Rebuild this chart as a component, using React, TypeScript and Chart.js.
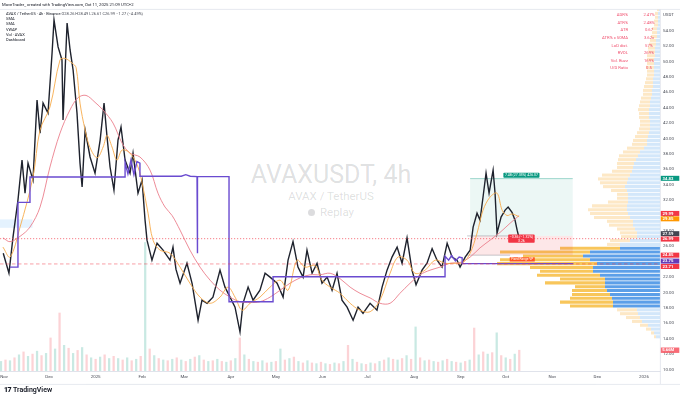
import React, { useEffect, useRef } from "react";
import { Chart, registerables } from "chart.js";

Chart.register(...registerables);

const FONT = "Roboto, 'Open Sans', 'DejaVu Sans', Arial, sans-serif";

// ---------- price path (days since 2024-11-01, USDT) ----------
const priceDays = [
  -0.5, 3.3, 6.0, 9.3, 12.0, 14.0, 16.0, 19.3, 22.0, 24.0,
  26.0, 29.3, 32.0, 33.3, 36.0, 38.6, 39.3, 42.0, 44.0, 46.0,
  48.6, 50.6, 52.0, 54.0, 57.3, 60.6, 64.0, 66.6, 68.6, 70.6,
  73.2, 75.9, 77.9, 80.6, 83.9, 85.9, 89.2, 91.9, 93.9, 95.2,
  98.5, 101.9, 105.9, 110.5, 112.5, 114.5, 117.2, 121.8, 125.2, 129.2,
  131.8, 135.2, 139.1, 143.8, 147.1, 150.5, 153.8, 157.1, 159.1, 162.5,
  165.8, 170.4, 173.8, 177.1, 181.8, 185.8, 189.1, 192.4, 195.7, 199.1,
  201.7, 205.1, 208.4, 211.7, 215.1, 218.4, 221.7, 225.0, 228.4, 232.4,
  235.7, 239.0, 243.7, 248.3, 251.7, 255.0, 258.3, 261.7, 265.0, 268.3,
  271.6, 274.3, 278.3, 281.6, 285.0, 288.3, 291.6, 295.0, 298.3, 301.6,
  303.6, 307.0, 310.3, 312.3, 314.9, 316.9, 318.9, 320.9, 322.9, 325.6,
  326.9, 328.2, 330.9, 333.6, 335.6, 338.2, 340.2, 341.6, 343.0,
];
const priceValues = [
  25.1, 22.5, 27.2, 32.0, 37.2, 32.9, 36.8, 34.6, 45.0, 40.7,
  44.6, 43.3, 51.1, 55.4, 51.9, 50.2, 42.4, 55.0, 51.5, 48.9,
  43.3, 36.8, 33.7, 41.1, 37.6, 35.5, 39.8, 44.6, 40.2, 36.3,
  33.3, 39.8, 41.5, 37.2, 35.5, 38.1, 32.9, 34.6, 29.4, 26.8,
  24.2, 26.4, 25.5, 24.2, 25.9, 23.0, 21.2, 23.8, 21.2, 16.4,
  19.0, 18.6, 19.4, 22.9, 20.7, 19.4, 18.1, 14.9, 18.6, 20.7,
  19.0, 20.3, 22.5, 22.0, 21.2, 19.4, 24.2, 26.6, 23.3, 22.0,
  25.5, 22.5, 23.8, 21.2, 22.0, 20.3, 22.5, 19.0, 18.1, 16.4,
  18.1, 17.3, 18.6, 17.7, 20.7, 22.9, 24.6, 25.9, 23.8, 27.1,
  22.9, 21.0, 22.9, 23.8, 25.7, 24.2, 23.3, 26.4, 24.6, 24.2,
  23.3, 24.6, 25.5, 28.5, 30.3, 29.4, 32.4, 35.5, 32.9, 35.9,
  32.9, 27.7, 29.8, 30.7, 31.1, 30.4, 29.4, 28.1, 26.99,
];

// ---------- SMA (fast, orange) ----------
const smaFastDays = [
  -0.7, 4.0, 10.7, 19.3, 24.0, 30.6, 37.3, 40.6, 45.3, 48.0,
  50.6, 54.0, 57.3, 62.0, 66.0, 68.6, 71.9, 75.2, 78.6, 83.9,
  89.2, 92.5, 95.9, 99.2, 103.9, 110.5, 117.2, 123.8, 130.5, 137.2,
  143.8, 149.1, 153.8, 158.5, 163.8, 170.4, 177.1, 183.8, 189.1, 195.1,
  200.4, 207.1, 211.7, 217.1, 223.7, 230.4, 237.0, 243.7, 250.3, 257.0,
  262.3, 268.3, 273.6, 280.3, 287.0, 293.6, 300.3, 305.6, 310.3, 314.9,
  318.9, 323.6, 328.2, 331.6, 334.9, 338.2, 342.9,
];
const smaFastValues = [
  25.9, 24.6, 28.5, 35.0, 41.1, 44.1, 50.2, 50.4, 49.8, 49.2,
  44.6, 41.1, 38.8, 37.5, 38.9, 40.4, 38.9, 37.2, 38.5, 38.1,
  36.3, 33.7, 30.3, 26.8, 25.5, 25.1, 23.3, 21.2, 19.4, 18.6,
  19.4, 20.7, 19.4, 17.7, 18.6, 19.4, 20.7, 21.6, 20.3, 24.2,
  23.3, 23.5, 21.6, 20.7, 19.9, 18.6, 17.7, 17.5, 19.0, 22.5,
  24.6, 24.2, 22.5, 22.9, 24.2, 23.8, 23.8, 23.9, 25.1, 27.7,
  30.7, 32.4, 32.9, 30.7, 30.0, 30.2, 29.85,
];

// ---------- SMA (slow, pink) ----------
const smaSlowDays = [
  -0.7, 4.0, 10.7, 17.3, 24.0, 30.6, 37.3, 43.9, 49.3, 54.6,
  60.6, 65.9, 72.6, 78.6, 83.9, 90.5, 97.2, 102.5, 107.2, 111.9,
  117.2, 123.8, 130.5, 137.2, 143.8, 150.5, 157.1, 163.8, 170.4, 177.1,
  183.8, 190.4, 197.1, 203.7, 210.4, 217.1, 223.7, 230.4, 237.0, 243.7,
  250.3, 257.0, 263.6, 270.3, 276.9, 283.6, 290.3, 296.9, 303.6, 310.3,
  316.9, 323.6, 330.2, 336.9, 342.9,
];
const smaSlowValues = [
  27.1, 26.6, 27.3, 28.5, 31.1, 36.3, 40.7, 43.7, 45.3, 45.6,
  44.7, 43.7, 42.0, 39.4, 38.1, 37.6, 35.9, 32.9, 31.1, 30.0,
  28.1, 25.5, 23.3, 21.6, 20.3, 19.4, 18.8, 18.7, 18.8, 19.4,
  20.3, 21.2, 21.9, 22.3, 22.3, 22.5, 21.8, 20.7, 19.9, 19.3,
  18.6, 18.6, 19.9, 21.2, 22.3, 22.9, 23.3, 23.8, 23.9, 24.6,
  25.8, 26.8, 27.8, 29.0, 29.99,
];

// ---------- VWAP (purple, stepped) ----------
const vwapDays = [
  4.0, 9.3, 9.3, 17.3, 17.3, 80.6, 80.6, 82.5, 84.5, 86.5,
  88.5, 90.5, 90.5, 118.0, 121.0, 124.0, 128.5, 128.7, 128.9, 149.8,
  149.8, 179.1, 179.1, 293.6, 293.6, 296.0, 298.0, 300.5, 303.0, 305.0,
  305.0, 379.0,
];
const vwapValues = [
  23.3, 23.3, 31.7, 31.7, 35.0, 35.0, 36.9, 35.4, 37.2, 35.3,
  37.0, 36.8, 35.1, 35.1, 35.3, 35.1, 35.05, 25.1, 35.05, 35.05,
  18.8, 18.8, 22.05, 22.05, 24.7, 24.2, 24.8, 24.1, 24.6, 24.5,
  23.75, 23.75,
];

// ---------- Volume (millions, one sample every 3 days) ----------
const volumeStartDay = -2;
const volumeStepDays = 3;
const volumeValues = [
  2.6, 3.0, 2.8, 3.6, 4.4, 5.2, 4.0, 4.6, 5.4, 4.2,
  4.8, 9.0, 6.0, 15.8, 7.0, 6.2, 4.8, 5.6, 6.4, 4.4,
  3.6, 3.2, 3.8, 4.4, 3.4, 4.0, 3.4, 3.0, 3.6, 2.8,
  3.2, 4.0, 35.0, 6.0, 4.2, 3.4, 3.0, 2.8, 3.2, 3.6,
  3.0, 2.6, 3.2, 3.8, 4.2, 3.0, 2.6, 2.8, 3.2, 2.6,
  2.4, 2.8, 3.4, 9.0, 4.4, 3.2, 2.6, 2.4, 2.8, 2.2,
  2.4, 2.6, 6.0, 3.0, 3.4, 3.8, 2.6, 2.2, 2.8, 2.2,
  2.0, 2.4, 2.0, 1.8, 2.2, 2.0, 2.6, 7.0, 3.2, 2.4,
  2.0, 1.8, 2.2, 2.0, 2.6, 3.0, 3.6, 3.2, 3.0, 3.4,
  4.2, 3.2, 12.0, 3.6, 2.8, 3.0, 2.6, 2.4, 2.8, 3.2,
  2.6, 2.4, 2.2, 2.6, 3.0, 11.7, 4.4, 5.2, 4.6, 5.0,
  10.4, 4.2, 3.6, 3.2, 4.6, 5.66,
];

// ---------- Volume profile (rows of 0.5 USDT, bottom row centre 14.25) ----------
const profileFirstRow = 14.25;
const profileRowStep = 0.5;
const profileUp = [
  4, 6, 9, 12, 18, 20, 22, 23, 47, 47,
  48, 50, 53, 55, 55, 55, 60, 67, 67, 63,
  70, 77, 70, 40, 40, 30, 23, 23, 25, 27,
  27, 30, 32, 33, 33, 32, 32, 32, 33, 35,
  33, 32, 30, 28, 27, 26, 24, 22, 20, 16,
  13, 13, 12, 11, 10, 10, 10, 11, 11, 11,
  10, 10, 9, 8, 8, 7, 7, 7, 6, 6,
  6, 6, 6, 5, 5, 5, 4, 4, 3, 3,
  3, 2, 2, 2, 2, 1,
];
const profileDown = [
  2, 3, 5, 8, 10, 14, 18, 20, 43, 53,
  42, 38, 35, 30, 60, 45, 63, 53, 63, 100,
  90, 60, 90, 60, 13, 20, 16, 17, 18, 24,
  26, 36, 38, 39, 35, 20, 11, 11, 16, 22,
  27, 30, 28, 20, 16, 17, 18, 19, 17, 17,
  15, 14, 13, 12, 11, 10, 10, 10, 10, 11,
  11, 10, 10, 9, 9, 9, 8, 7, 7, 7,
  8, 7, 7, 8, 7, 7, 7, 6, 6, 5,
  5, 4, 4, 3, 3, 2,
];
const valueAreaLow = 18;
const valueAreaHigh = 26;

// ---------- axes ----------
const monthTickDays = [0, 30, 61, 92, 120, 151, 181, 212, 242, 273, 304, 334, 365, 395, 426];
const monthTickLabels = ["Nov", "Dec", "2025", "Feb", "Mar", "Apr", "May", "Jun", "Jul", "Aug", "Sep", "Oct", "Nov", "Dec", "2026"];
const priceTickValues = [10, 12, 14, 16, 18, 20, 22, 24, 26, 28, 30, 32, 34, 36, 38, 40, 42, 44, 46, 48, 50, 52, 54, 56];

const axisPriceLabels = [
  { value: 34.83, text: "34.83", color: "#089981" },
  { value: 29.99, text: "29.99", color: "#f23645" },
  { value: 29.85, text: "29.85", color: "#ff9800" },
  { value: 27.59, text: "27.59", color: "#434651" },
  { value: 26.99, text: "26.99", color: "#f23645" },
  { value: 24.85, text: "24.85", color: "#f23645" },
  { value: 23.75, text: "23.75", color: "#673ab7" },
  { value: 23.71, text: "23.71", color: "#f23645" },
];
const lastVolume = 5.66;
const lastVolumeText = "5.66M";

const currentPrice = 26.99;
const pocPrice = 23.71;

// faint earlier profile band at the left edge
const leftBandEndDay = 19;
const leftBandLow = 28.4;
const leftBandHigh = 29.5;

// long position tool
const positionStartDay = 310.3;
const positionEndDay = 378.6;
const positionEntry = 27.35;
const positionTarget = 34.83;
const positionStop = 24.85;
const positionTargetText = "7.48 (27.35%) 426.07";
const positionPnlText = ["\u22120.36 (\u22121.32%)", "3.26"];
const vpLabelDay = 345;
const vpLabelPrice = 24.3;
const vpLabelText = "Fixed Range VP";

const dashboardLabels = ["ADR%", "ATR%", "ATR", "ATR% x 50MA", "LoD dist.", "RVOL", "Vol. Buzz", "U/D Ratio"];
const dashboardValues = ["2.47%", "2.48%", "0.67", "3.62x", "57%", "269%", "169%", "0.5"];

const legendLines = ["SMA", "SMA", "VWAP", "Vol \u00b7 AVAX", "Dashboard"];

// ---------- layout constants ----------
const W = 680;
const H = 401;
const PANE_TOP = 9;
const PANE_BOTTOM = 371;
const PANE_RIGHT = 660;
const PRICE_MIN = 9.806;
const PRICE_MAX = 56.82;
const DAY_MIN = -2.66;
const DAY_MAX = 436.7;
const VOL_MAX = 98.6;
const VP_LEFT = 490;
const VP_MAX = 170;

function toPoints(xs: number[], ys: number[]) {
  return xs.map((x, i) => ({ x, y: ys[i] }));
}

function rrect(ctx: CanvasRenderingContext2D, x: number, y: number, w: number, h: number, r: number) {
  ctx.beginPath();
  if ((ctx as any).roundRect) (ctx as any).roundRect(x, y, w, h, r);
  else ctx.rect(x, y, w, h);
  ctx.fill();
}

const overlayPlugin = {
  id: "tvOverlay",
  beforeDatasetsDraw(chart: any) {
    const { ctx, scales, chartArea: a } = chart;
    const x = scales.x;
    const y = scales.y;
    ctx.save();
    // left faint band
    ctx.fillStyle = "rgba(33,150,243,0.12)";
    const bt = y.getPixelForValue(leftBandHigh);
    const bb = y.getPixelForValue(leftBandLow);
    ctx.fillRect(a.left, bt, x.getPixelForValue(leftBandEndDay) - a.left, bb - bt);

    const xl = x.getPixelForValue(positionStartDay);
    const xr = x.getPixelForValue(positionEndDay);
    const yt = y.getPixelForValue(positionTarget);
    const ye = y.getPixelForValue(positionEntry);
    const ys = y.getPixelForValue(positionStop);
    ctx.fillStyle = "rgba(8,153,129,0.08)";
    ctx.fillRect(xl, yt, xr - xl, ye - yt);
    ctx.fillStyle = "rgba(242,54,69,0.12)";
    ctx.fillRect(xl, ye, xr - xl, ys - ye);
    ctx.lineWidth = 0.6;
    ctx.strokeStyle = "rgba(8,153,129,0.6)";
    ctx.beginPath();
    ctx.moveTo(xl, yt + 0.3);
    ctx.lineTo(xr, yt + 0.3);
    ctx.stroke();
    ctx.strokeStyle = "rgba(120,123,134,0.7)";
    ctx.beginPath();
    ctx.moveTo(xl - 3, ye);
    ctx.lineTo(xl + 48, ye);
    ctx.moveTo(xl - 3, ys);
    ctx.lineTo(xl + 40, ys);
    ctx.stroke();
    ctx.restore();
  },
  afterDatasetsDraw(chart: any) {
    const { ctx, chartArea: a, scales } = chart;
    const x = scales.x;
    const y = scales.y;
    ctx.save();
    // current price (dotted)
    ctx.lineWidth = 0.8;
    ctx.setLineDash([1.2, 1.8]);
    ctx.strokeStyle = "rgba(242,54,69,0.8)";
    const yc = y.getPixelForValue(currentPrice);
    ctx.beginPath();
    ctx.moveTo(a.left, yc);
    ctx.lineTo(a.right, yc);
    ctx.stroke();
    // POC (dashed)
    ctx.setLineDash([3.5, 2.5]);
    ctx.strokeStyle = "rgba(242,54,69,0.6)";
    const yp = y.getPixelForValue(pocPrice);
    ctx.beginPath();
    ctx.moveTo(a.left, yp);
    ctx.lineTo(a.right, yp);
    ctx.stroke();
    ctx.setLineDash([]);

    // position labels
    const xm = (x.getPixelForValue(positionStartDay) + x.getPixelForValue(positionEndDay)) / 2;
    const yt = y.getPixelForValue(positionTarget);
    const ye = y.getPixelForValue(positionEntry);
    ctx.font = `3.5px ${FONT}`;
    ctx.textAlign = "center";
    ctx.textBaseline = "middle";
    let tw = ctx.measureText(positionTargetText).width + 3;
    ctx.fillStyle = "#089981";
    rrect(ctx, xm - tw / 2, yt - 5.6, tw, 5, 0.8);
    ctx.fillStyle = "#fff";
    ctx.fillText(positionTargetText, xm, yt - 3.05);

    tw = Math.max(ctx.measureText(positionPnlText[0]).width, ctx.measureText(positionPnlText[1]).width) + 3;
    ctx.fillStyle = "#f23645";
    rrect(ctx, xm - tw / 2, ye - 1.3, tw, 8.2, 0.8);
    ctx.fillStyle = "#fff";
    ctx.fillText(positionPnlText[0], xm, ye + 1);
    ctx.fillText(positionPnlText[1], xm, ye + 4.9);

    // volume-profile label
    const xv = x.getPixelForValue(vpLabelDay);
    const yv = y.getPixelForValue(vpLabelPrice);
    ctx.font = `3.2px ${FONT}`;
    tw = ctx.measureText(vpLabelText).width + 3;
    ctx.fillStyle = "#ff5722";
    rrect(ctx, xv - tw / 2, yv - 2.2, tw, 4.4, 0.6);
    ctx.fillStyle = "#fff";
    ctx.fillText(vpLabelText, xv, yv + 0.1);
    ctx.restore();
  },
  afterDraw(chart: any) {
    const { ctx, scales } = chart;
    const y = scales.y;
    const yvScale = scales.yv;
    ctx.save();
    // frame lines
    ctx.strokeStyle = "#e0e3eb";
    ctx.lineWidth = 0.8;
    ctx.beginPath();
    ctx.moveTo(0, PANE_TOP + 0.4);
    ctx.lineTo(W, PANE_TOP + 0.4);
    ctx.moveTo(PANE_RIGHT + 0.4, PANE_TOP);
    ctx.lineTo(PANE_RIGHT + 0.4, 384);
    ctx.moveTo(0, 384.4);
    ctx.lineTo(W, 384.4);
    ctx.stroke();

    // price labels on the axis
    const h = 5.4;
    const items = axisPriceLabels
      .map((l) => ({ ...l, py: y.getPixelForValue(l.value) }))
      .sort((p, q) => p.py - q.py);
    const groups: any[][] = [];
    for (const it of items) {
      const g = groups[groups.length - 1];
      if (g && it.py - g[g.length - 1].py < h) g.push(it);
      else groups.push([it]);
    }
    ctx.font = `bold 4.2px ${FONT}`;
    ctx.textAlign = "left";
    ctx.textBaseline = "middle";
    for (const g of groups) {
      const mean = g.reduce((s, it) => s + it.py, 0) / g.length;
      const start = mean - ((g.length - 1) * h) / 2;
      g.forEach((it, k) => {
        const cy = start + k * h;
        ctx.fillStyle = it.color;
        ctx.fillRect(PANE_RIGHT + 0.8, cy - h / 2 + 0.2, 18.5, h - 0.4);
        ctx.fillStyle = "#fff";
        ctx.fillText(it.text, PANE_RIGHT + 2.6, cy + 0.2);
      });
    }
    const vy = yvScale.getPixelForValue(lastVolume);
    ctx.fillStyle = "rgba(247,82,95,0.85)";
    ctx.fillRect(PANE_RIGHT + 0.8, vy - h / 2, 18.5, h);
    ctx.fillStyle = "#fff";
    ctx.fillText(lastVolumeText, PANE_RIGHT + 2.2, vy + 0.2);
    ctx.restore();
  },
};

export default function App() {
  const mainRef = useRef<HTMLCanvasElement>(null);
  const vpRef = useRef<HTMLCanvasElement>(null);

  useEffect(() => {
    const main = new Chart(mainRef.current as HTMLCanvasElement, {
      type: "line",
      data: {
        datasets: [
          {
            type: "line",
            label: "VWAP",
            data: toPoints(vwapDays, vwapValues),
            borderColor: "#6a4bd0",
            borderWidth: 1.4,
            pointRadius: 0,
            pointHoverRadius: 0,
            tension: 0,
            order: 1,
          },
          {
            type: "line",
            label: "SMA fast",
            data: toPoints(smaFastDays, smaFastValues),
            borderColor: "#f7ac4c",
            borderWidth: 0.9,
            pointRadius: 0,
            pointHoverRadius: 0,
            tension: 0.35,
            order: 2,
          },
          {
            type: "line",
            label: "SMA slow",
            data: toPoints(smaSlowDays, smaSlowValues),
            borderColor: "#eb7f8c",
            borderWidth: 0.9,
            pointRadius: 0,
            pointHoverRadius: 0,
            tension: 0.35,
            order: 3,
          },
          {
            type: "line",
            label: "AVAXUSDT",
            data: toPoints(priceDays, priceValues),
            borderColor: "#1e222d",
            borderWidth: 1.4,
            pointRadius: 0,
            pointHoverRadius: 0,
            tension: 0,
            order: 4,
          },
          {
            type: "bar",
            label: "Volume",
            yAxisID: "yv",
            data: volumeValues.map((v, i) => ({ x: volumeStartDay + i * volumeStepDays, y: v })),
            backgroundColor: volumeValues.map((_, i) => (i % 2 ? "rgba(242,54,69,0.22)" : "rgba(8,153,129,0.22)")),
            barThickness: 1.6,
            order: 10,
          } as any,
        ],
      },
      options: {
        animation: false,
        responsive: false,
        maintainAspectRatio: false,
        events: [],
        layout: { autoPadding: false, padding: { top: PANE_TOP, left: 0, right: 0, bottom: 0 } },
        plugins: { legend: { display: false }, tooltip: { enabled: false } },
        scales: {
          x: {
            type: "linear",
            offset: false,
            min: DAY_MIN,
            max: DAY_MAX,
            grid: { display: false, drawTicks: false, offset: false },
            border: { display: true, color: "#e0e3eb" },
            ticks: {
              autoSkip: false,
              maxRotation: 0,
              padding: 3,
              color: "#4a4d57",
              font: { family: FONT, size: 4.4 },
              callback: (_v: any, i: number) => monthTickLabels[i],
            },
            afterBuildTicks: (s: any) => {
              s.ticks = monthTickDays.map((v) => ({ value: v }));
            },
            afterFit: (s: any) => {
              s.height = H - PANE_BOTTOM;
              s.paddingLeft = 0;
              s.paddingRight = 0;
            },
          },
          y: {
            type: "linear",
            position: "right",
            min: PRICE_MIN,
            max: PRICE_MAX,
            grid: { display: false, drawTicks: false },
            border: { display: false },
            ticks: {
              padding: 3,
              color: "#4a4d57",
              font: { family: FONT, size: 4.4 },
              callback: (v: any) => (v === 56 ? "USDT" : Number(v).toFixed(2)),
            },
            afterBuildTicks: (s: any) => {
              s.ticks = priceTickValues.map((v) => ({ value: v }));
            },
            afterFit: (s: any) => {
              s.width = W - PANE_RIGHT;
              s.paddingTop = 0;
              s.paddingBottom = 0;
            },
          },
          yv: {
            type: "linear",
            display: false,
            min: 0,
            max: VOL_MAX,
          },
        },
      } as any,
      plugins: [overlayPlugin as any],
    });

    const rowPrice = (i: number) => profileFirstRow + i * profileRowStep;
    const inVA = (i: number) => rowPrice(i) > valueAreaLow && rowPrice(i) < valueAreaHigh;
    const vp = new Chart(vpRef.current as HTMLCanvasElement, {
      type: "bar",
      data: {
        datasets: [
          {
            label: "Up volume",
            data: profileUp.map((v, i) => ({ x: v, y: rowPrice(i) })),
            backgroundColor: profileUp.map((_, i) => (inVA(i) ? "#5c9fe8" : "#d3e7fa")),
            barPercentage: 0.8,
            categoryPercentage: 1,
          },
          {
            label: "Down volume",
            data: profileDown.map((v, i) => ({ x: v, y: rowPrice(i) })),
            backgroundColor: profileDown.map((_, i) => (inVA(i) ? "#f8c65b" : "#fde8c6")),
            barPercentage: 0.8,
            categoryPercentage: 1,
          },
        ] as any,
      },
      options: {
        indexAxis: "y",
        animation: false,
        responsive: false,
        maintainAspectRatio: false,
        events: [],
        layout: { autoPadding: false, padding: 0 },
        plugins: { legend: { display: false }, tooltip: { enabled: false } },
        scales: {
          x: { type: "linear", display: false, min: 0, max: VP_MAX, reverse: true, stacked: true },
          y: { type: "linear", display: false, offset: false, min: PRICE_MIN, max: PRICE_MAX, stacked: true },
        },
      } as any,
    });

    return () => {
      main.destroy();
      vp.destroy();
    };
  }, []);

  const wm = "rgba(19,23,34,0.15)";
  return (
    <div
      style={{
        position: "fixed",
        left: 0,
        top: 0,
        width: W,
        height: H,
        background: "#ffffff",
        overflow: "hidden",
        fontFamily: FONT,
      }}
    >
      {/* watermark */}
      <div style={{ position: "absolute", left: 0, width: PANE_RIGHT + 2, top: 161, textAlign: "center", fontSize: 25, lineHeight: "28px", color: wm, whiteSpace: "nowrap" }}>
        AVAXUSDT, 4h
      </div>
      <div style={{ position: "absolute", left: 0, width: PANE_RIGHT + 2, top: 189, textAlign: "center", fontSize: 11.5, lineHeight: "14px", color: wm, whiteSpace: "nowrap" }}>
        AVAX / TetherUS
      </div>
      <div style={{ position: "absolute", left: 0, width: PANE_RIGHT + 2, top: 204.5, textAlign: "center", fontSize: 11.5, lineHeight: "14px", color: wm, whiteSpace: "nowrap" }}>
        <span style={{ display: "inline-block", width: 7, height: 7, borderRadius: 4, background: wm, marginRight: 5, verticalAlign: "-0.5px" }} />
        Replay
      </div>

      <canvas ref={vpRef} width={VP_MAX} height={PANE_BOTTOM - PANE_TOP} style={{ position: "absolute", left: VP_LEFT, top: PANE_TOP, width: VP_MAX, height: PANE_BOTTOM - PANE_TOP }} />
      <canvas ref={mainRef} width={W} height={H} style={{ position: "absolute", left: 0, top: 0, width: W, height: H }} />

      {/* header */}
      <div style={{ position: "absolute", left: 2, top: 1.6, fontSize: 4.2, lineHeight: "6px", color: "#131722", whiteSpace: "nowrap" }}>
        MoveTrader_ created with TradingView.com, Oct 11, 2025 21:09 UTC+2
      </div>
      {/* legend */}
      <div style={{ position: "absolute", left: 6, top: 10.6, fontSize: 4, lineHeight: "5.33px", color: "#131722", whiteSpace: "nowrap" }}>
        <div>
          AVAX / TetherUS · 4h · Binance{"  "}
          <span style={{ color: "#4a4d57" }}>O28.26 H28.49 L26.61 C26.99 −1.27 (−4.49%)</span>
        </div>
        {legendLines.map((t, i) => (
          <div key={i}>{t}</div>
        ))}
      </div>
      {/* dashboard */}
      <div style={{ position: "absolute", left: 560, top: 11.2, width: 100, fontSize: 4.2, lineHeight: "7.6px", color: "#f0506e", whiteSpace: "nowrap" }}>
        {dashboardLabels.map((t, i) => (
          <div key={i} style={{ position: "relative", height: 7.6 }}>
            <span style={{ position: "absolute", right: 32, textAlign: "right" }}>{t}</span>
            <span style={{ position: "absolute", left: 76, width: 26, textAlign: "center" }}>{dashboardValues[i]}</span>
          </div>
        ))}
      </div>
      {/* logo */}
      <div style={{ position: "absolute", left: 4, top: 386, fontSize: 7, lineHeight: "9px", color: "#131722", whiteSpace: "nowrap" }}>
        <span style={{ fontWeight: 900, letterSpacing: -0.6, marginRight: 2 }}>17</span>
        <span style={{ fontWeight: 600 }}>TradingView</span>
      </div>
    </div>
  );
}
